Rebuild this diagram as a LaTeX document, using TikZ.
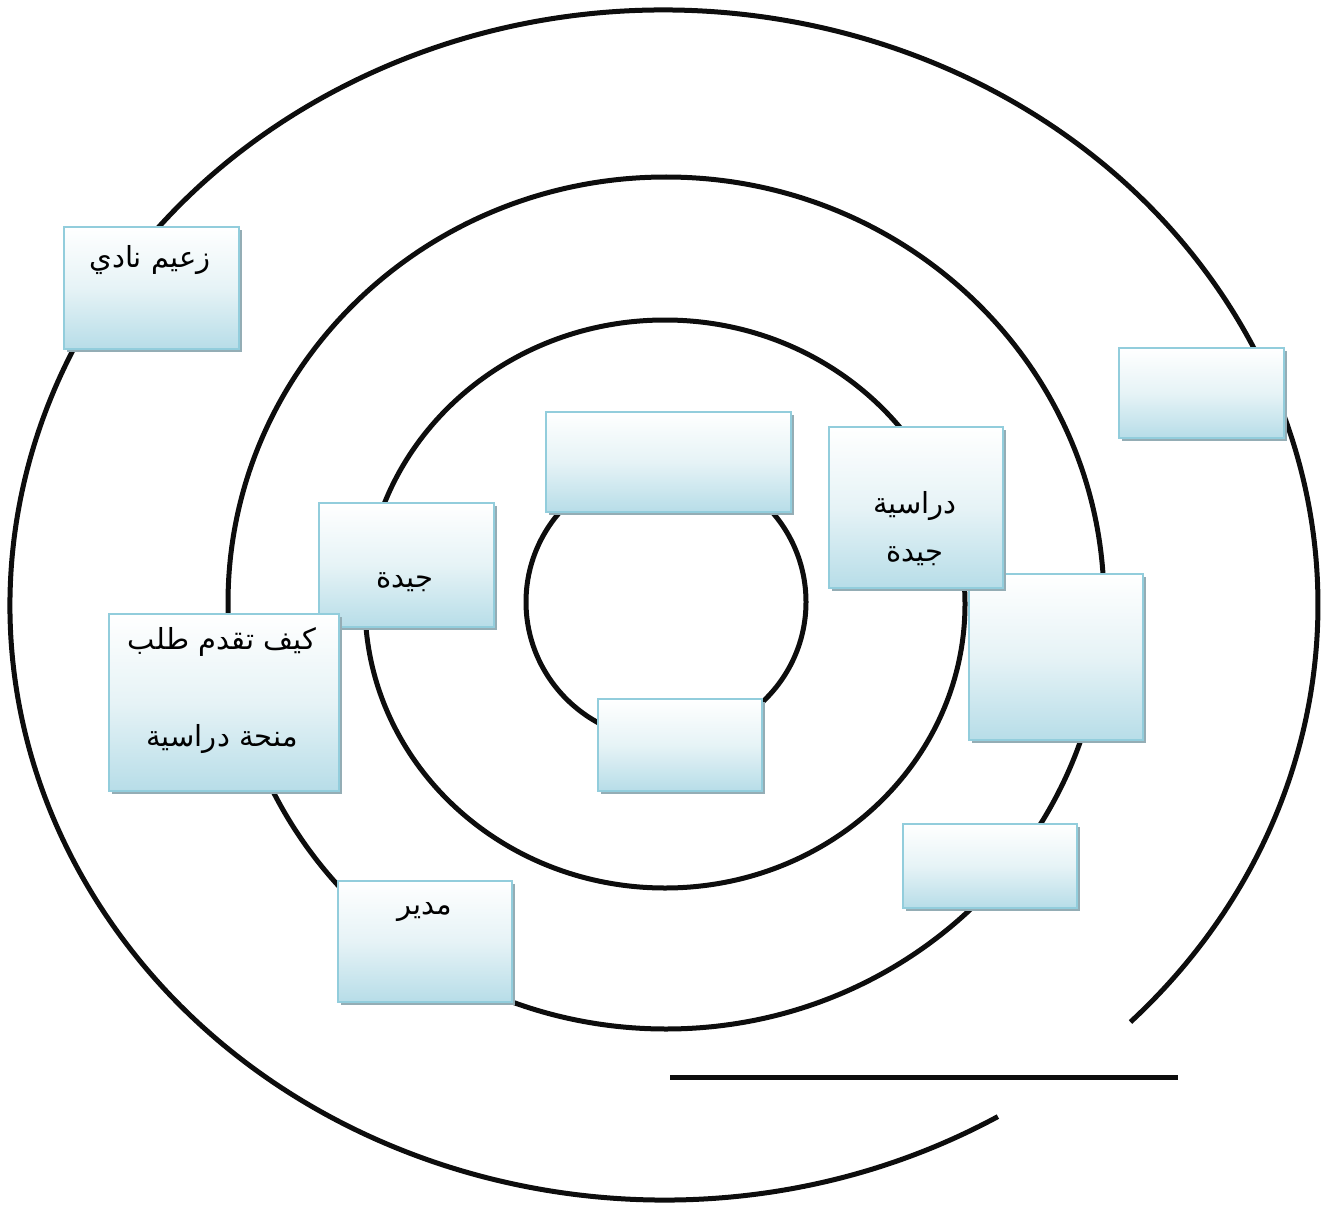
\documentclass[tikz,border=0pt]{standalone}
\usepackage{fontspec}
\newfontfamily\arabicfont[Script=Arabic]{DejaVu Sans}
\TeXXeTstate=1
\usetikzlibrary{shadows}
\definecolor{boxblue}{RGB}{183,221,232}
\definecolor{boxmid}{RGB}{230,243,246}
\definecolor{boxline}{RGB}{146,205,220}
\definecolor{boxshadow}{RGB}{148,173,181}
\tikzset{
  ring/.style={line width=5pt, black!95},
  panel/.style 2 args={draw=boxline, line width=2pt, anchor=north west, inner sep=0pt,
    minimum width=#1, minimum height=#2,
    top color=white, bottom color=boxblue, middle color=boxmid,
    drop shadow={shadow xshift=3pt, shadow yshift=-3pt, fill=boxshadow, opacity=1}},
  word/.style={font=\arabicfont\fontsize{29}{34}\selectfont, align=center}
}
\begin{document}
\begin{tikzpicture}[x=1pt,y=-1pt]
  \useasboundingbox (0,0) rectangle (1327,1206);
  % rings
  \draw[ring] (664,605) ++(59.3:654 and 595) arc[start angle=59.3, end angle=404.5, x radius=654, y radius=595];
  \draw[ring] (666,603) ellipse [x radius=438, y radius=426];
  \draw[ring] (665,604) ellipse [x radius=300, y radius=284];
  \draw[ring] (666,602) ellipse [x radius=140, y radius=138];
  \coordinate (baseL) at (670,1077);
  \coordinate (baseR) at (1178,1077);
  \draw[ring] (baseL) -- (baseR);
  % boxes
  \node[panel={175pt}{122pt}] (leader) at (63,226) {};
  \node[panel={165pt}{90pt}] (rtop) at (1118,347) {};
  \node[panel={245pt}{100pt}] (ctop) at (545,411) {};
  \node[panel={174pt}{166pt}] (rmid) at (968,573) {};
  \node[panel={174pt}{161pt}] (study) at (828,426) {};
  \node[panel={175pt}{124pt}] (good) at (318,502) {};
  \node[panel={230pt}{177pt}] (apply) at (108,613) {};
  \node[panel={164pt}{92pt}] (cbot) at (597,698) {};
  \node[panel={174pt}{84pt}] (rbot) at (902,823) {};
  \node[panel={174pt}{121pt}] (manager) at (337,880) {};
  % texts
  \node[word] (leadertext) at (150,260) {\beginR زعيم نادي\endR};
  \node[word] (studytext) at (915,529) {\beginR دراسية\endR\\[14pt]\beginR جيدة\endR};
  \node[word] (goodtext) at (405,582) {\beginR جيدة\endR};
  \node[word] (applytext) at (222,691) {\beginR كيف تقدم طلب\endR\\[63pt]\beginR منحة دراسية\endR};
  \node[word] (managertext) at (425,912) {\beginR مدير\endR};
\end{tikzpicture}
\end{document}
